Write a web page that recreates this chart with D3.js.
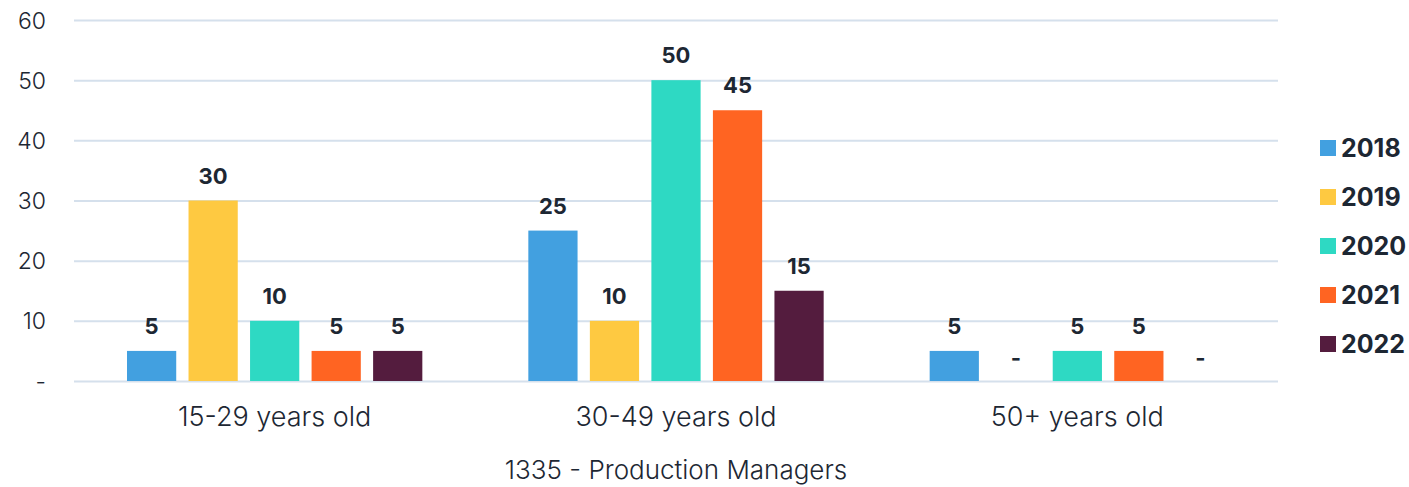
<!DOCTYPE html>
<html>
<head>
<meta charset="utf-8">
<script src="https://cdn.jsdelivr.net/npm/d3@7"></script>
<style>
  body { margin: 0; background: #fff; }
  svg text { font-family: Inter, Lato, sans-serif; fill: #1d2733; }
</style>
</head>
<body>
<script>
var categories = ['15-29 years old', '30-49 years old', '50+ years old'];
var years = ['2018', '2019', '2020', '2021', '2022'];
var values2018 = [5, 25, 5];
var values2019 = [30, 10, 0];
var values2020 = [10, 50, 5];
var values2021 = [5, 45, 5];
var values2022 = [5, 15, 0];
var yTicks = [0, 10, 20, 30, 40, 50, 60];
var colors = ['#42a0e0', '#fec941', '#2ed9c3', '#ff6422', '#541c3e'];
var title = '1335 - Production Managers';

var series = [values2018, values2019, values2020, values2021, values2022];

var width = 1409, height = 487;
var svg = d3.select('body').append('svg')
  .attr('width', width)
  .attr('height', height);

var plotLeft = 74, plotRight = 1278, plotTop = 20, plotBottom = 381;

var y = d3.scaleLinear().domain([0, 60]).range([plotBottom, plotTop]);
var x0 = d3.scaleBand().domain(categories).range([plotLeft, plotRight]);
var x1 = d3.scaleBand().domain(years)
  .range([53, x0.bandwidth() - 53])
  .paddingInner(0.2);
var color = d3.scaleOrdinal().domain(years).range(colors);

// gridlines + y labels
var yAxis = d3.axisLeft(y)
  .tickValues(yTicks)
  .tickSize(-(plotRight - plotLeft))
  .tickFormat(function(d) { return d === 0 ? '-' : d; });

svg.append('g')
  .attr('transform', 'translate(' + plotLeft + ',0)')
  .call(yAxis)
  .call(function(g) {
    g.select('.domain').remove();
    g.selectAll('.tick line').attr('stroke', '#d5e0ec').attr('stroke-width', 2);
    g.selectAll('.tick text')
      .attr('font-size', 23)
      .attr('font-weight', 300)
      .attr('text-anchor', 'end')
      .attr('x', -28)
      .attr('dy', '0.35em');
  });

// bars
var groups = svg.append('g').selectAll('g')
  .data(categories)
  .enter().append('g')
    .attr('transform', function(d) { return 'translate(' + x0(d) + ',0)'; });

var cells = groups.selectAll('g')
  .data(function(d, i) {
    return years.map(function(yr, j) { return { year: yr, value: series[j][i] }; });
  })
  .enter().append('g');

cells.append('rect')
  .attr('x', function(d) { return x1(d.year); })
  .attr('y', function(d) { return y(d.value); })
  .attr('width', x1.bandwidth())
  .attr('height', function(d) { return y(0) - y(d.value); })
  .attr('fill', function(d) { return color(d.year); });

cells.append('text')
  .attr('x', function(d) { return x1(d.year) + x1.bandwidth() / 2; })
  .attr('y', function(d) { return d.value ? y(d.value) - 17 : y(0) - 15; })
  .attr('text-anchor', 'middle')
  .attr('font-size', 22)
  .attr('font-weight', 'bold')
  .text(function(d) { return d.value ? d.value : '-'; });

// x labels
svg.append('g').selectAll('text')
  .data(categories)
  .enter().append('text')
    .attr('x', function(d) { return x0(d) + x0.bandwidth() / 2; })
    .attr('y', 426)
    .attr('text-anchor', 'middle')
    .attr('font-size', 27)
    .attr('font-weight', 300)
    .text(function(d) { return d; });

svg.append('text')
  .attr('x', (plotLeft + plotRight) / 2)
  .attr('y', 479)
  .attr('text-anchor', 'middle')
  .attr('font-size', 26)
  .attr('font-weight', 300)
  .text(title);

// legend
var legend = svg.append('g').selectAll('g')
  .data(years)
  .enter().append('g')
    .attr('transform', function(d, i) { return 'translate(1320,' + (148 + i * 49) + ')'; });

legend.append('rect')
  .attr('x', 0)
  .attr('y', -8)
  .attr('width', 16)
  .attr('height', 16)
  .attr('fill', function(d) { return color(d); });

legend.append('text')
  .attr('x', 21)
  .attr('dy', '0.36em')
  .attr('font-size', 25)
  .attr('font-weight', 'bold')
  .text(function(d) { return d; });
</script>
</body>
</html>
